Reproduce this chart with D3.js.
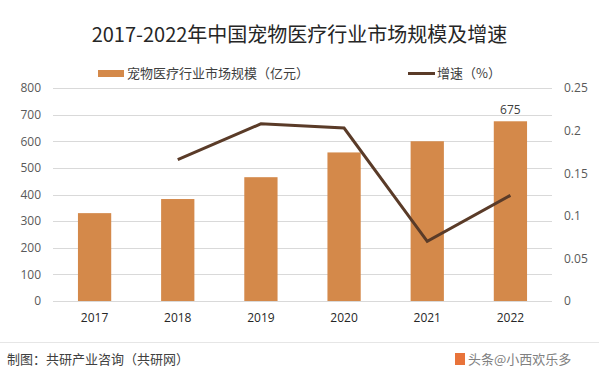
<!DOCTYPE html>
<html>
<head>
<meta charset="utf-8">
<script src="https://cdn.jsdelivr.net/npm/d3@7"></script>
<style>
  body { margin: 0; background: #fff; }
  svg { display: block; font-family: "Noto Sans CJK SC", "Noto Sans", sans-serif; }
</style>
</head>
<body>
<div id="chart"></div>
<script>
var years = ["2017", "2018", "2019", "2020", "2021", "2022"];
var market_size = [330, 383, 465, 558, 600, 675];
var growth = [null, 0.166, 0.208, 0.203, 0.070, 0.124];
var left_ticks = [0, 100, 200, 300, 400, 500, 600, 700, 800];
var right_ticks = [0, 0.05, 0.1, 0.15, 0.2, 0.25];

var bar_color = "#d4894a";
var line_color = "#5a3b28";

var width = 599, height = 376;
var margin = {top: 88, right: 47, bottom: 75, left: 53};
var plot_w = width - margin.left - margin.right;
var plot_h = height - margin.top - margin.bottom;

var svg = d3.select("#chart").append("svg")
    .attr("width", width)
    .attr("height", height);

// title
svg.append("text")
    .attr("x", width / 2)
    .attr("y", 42)
    .attr("text-anchor", "middle")
    .attr("font-size", "20px")
    .attr("fill", "#262626")
    .text("2017-2022年中国宠物医疗行业市场规模及增速");

// legend
svg.append("rect")
    .attr("x", 98).attr("y", 70)
    .attr("width", 26).attr("height", 7)
    .attr("fill", bar_color);
svg.append("text")
    .attr("x", 127).attr("y", 78)
    .attr("font-size", "13px")
    .attr("fill", "#404040")
    .text("宠物医疗行业市场规模（亿元）");
svg.append("line")
    .attr("x1", 408).attr("x2", 435)
    .attr("y1", 73.5).attr("y2", 73.5)
    .attr("stroke", line_color)
    .attr("stroke-width", 3);
svg.append("text")
    .attr("x", 437).attr("y", 78)
    .attr("font-size", "13px")
    .attr("fill", "#404040")
    .text("增速（%）");

var g = svg.append("g")
    .attr("transform", "translate(" + margin.left + "," + margin.top + ")");

var x = d3.scaleBand().domain(years).range([0, plot_w]).paddingInner(0.6).paddingOuter(0.3);
var y = d3.scaleLinear().domain([0, 800]).range([plot_h, 0]);
var y2 = d3.scaleLinear().domain([0, 0.25]).range([plot_h, 0]);

// gridlines
g.selectAll(".grid")
    .data(left_ticks)
    .enter()
    .append("line")
        .attr("x1", 0).attr("x2", plot_w)
        .attr("y1", function(d) { return Math.round(y(d)) + 0.5; })
        .attr("y2", function(d) { return Math.round(y(d)) + 0.5; })
        .attr("stroke", "#d9d9d9")
        .attr("stroke-width", 1);

// left axis
var left_axis = g.append("g")
    .call(d3.axisLeft(y).tickValues(left_ticks).tickSize(0).tickPadding(12));
left_axis.select(".domain").remove();
left_axis.selectAll("text")
    .attr("font-size", "12px")
    .attr("fill", "#595959")
    .attr("font-family", "'Open Sans', 'Noto Sans', sans-serif");

// right axis
var right_axis = g.append("g")
    .attr("transform", "translate(" + plot_w + ",0)")
    .call(d3.axisRight(y2).tickValues(right_ticks).tickSize(0).tickPadding(12)
        .tickFormat(function(d) { return d3.format("~g")(d); }));
right_axis.select(".domain").remove();
right_axis.selectAll("text")
    .attr("font-size", "12px")
    .attr("fill", "#595959")
    .attr("font-family", "'Open Sans', 'Noto Sans', sans-serif");

// bottom axis labels
var bottom_axis = g.append("g")
    .attr("transform", "translate(0," + plot_h + ")")
    .call(d3.axisBottom(x).tickSize(0).tickPadding(12));
bottom_axis.select(".domain").remove();
bottom_axis.selectAll("text")
    .attr("font-size", "12px")
    .attr("fill", "#262626")
    .attr("font-family", "'Open Sans', 'Noto Sans', sans-serif");

// bars
g.selectAll(".bar")
    .data(market_size)
    .enter()
    .append("rect")
        .attr("x", function(d, i) { return x(years[i]); })
        .attr("y", function(d) { return y(d); })
        .attr("width", x.bandwidth())
        .attr("height", function(d) { return plot_h - y(d); })
        .attr("fill", bar_color);

// label on last bar
g.append("text")
    .attr("x", x(years[5]) + x.bandwidth() / 2)
    .attr("y", y(market_size[5]) - 7)
    .attr("text-anchor", "middle")
    .attr("font-size", "12px")
    .attr("fill", "#404040")
    .attr("font-family", "'Open Sans', 'Noto Sans', sans-serif")
    .text(market_size[5]);

// growth line
var line_data = [];
for (var i = 0; i < years.length; i++) {
    if (growth[i] !== null) line_data.push([years[i], growth[i]]);
}
g.append("path")
    .datum(line_data)
    .attr("fill", "none")
    .attr("stroke", line_color)
    .attr("stroke-width", 3)
    .attr("d", d3.line()
        .x(function(d) { return x(d[0]) + x.bandwidth() / 2; })
        .y(function(d) { return y2(d[1]); })
    );

// footer
svg.append("line")
    .attr("x1", 0).attr("x2", width)
    .attr("y1", 342.5).attr("y2", 342.5)
    .attr("stroke", "#e6e6e6");
svg.append("text")
    .attr("x", 7).attr("y", 364)
    .attr("font-size", "13px")
    .attr("fill", "#404040")
    .text("制图：共研产业咨询（共研网）");
svg.append("rect")
    .attr("x", 455).attr("y", 353)
    .attr("width", 10).attr("height", 12)
    .attr("fill", "#e8733a");
svg.append("text")
    .attr("x", 468).attr("y", 364)
    .attr("font-size", "13px")
    .attr("fill", "#808080")
    .text("头条@小西欢乐多");
</script>
</body>
</html>
